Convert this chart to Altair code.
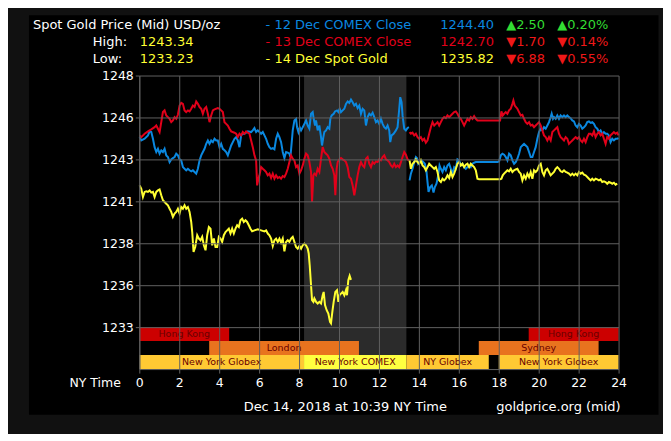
import altair as alt
import pandas as pd

# ---------------- data (minutes since midnight NY, price) ----------------
blue_a = [(1,1244.33),(6,1244.13),(16,1244.23),(26,1244.43),(31,1244.67),(36,1244.63),(41,1244.23),(46,1243.73),(51,1243.44),(56,1243.63),(61,1243.34),(66,1243.54),(71,1243.44),(76,1243.63),(81,1243.24),(86,1243.14),(91,1242.84),(96,1243.00),(101,1243.08),(106,1243.14),(111,1243.34),(116,1243.24),(121,1243.00),(126,1242.94),(131,1242.54),(136,1242.44),(141,1242.35),(146,1242.44),(151,1242.35),(156,1242.29),(161,1242.35),(166,1242.25),(171,1242.15),(176,1242.44),(181,1242.94),(186,1243.24),(191,1243.44),(196,1243.63),(201,1243.93),(206,1244.13),(211,1243.93),(216,1244.13),(221,1244.03),(226,1244.23),(231,1244.13),(236,1244.13),(241,1243.73),(246,1243.93),(251,1243.63),(256,1243.54),(261,1243.44),(266,1243.24),(271,1243.54),(276,1243.83),(281,1244.03),(286,1244.23),(291,1244.33),(296,1244.13),(301,1243.73),(306,1244.43),(311,1244.53),(316,1244.53),(326,1244.67),(336,1244.63),(341,1244.73),(346,1244.87),(351,1244.63),(356,1244.73),
          (361,1244.63),(366,1244.53),(371,1244.63),(376,1244.43),(381,1244.23),(386,1243.93),(391,1243.73),(396,1243.63),(401,1243.67),(406,1243.60),(411,1244.23),(416,1244.53),(421,1244.33),(426,1244.03),(431,1243.44),(436,1243.08),(441,1243.44),(446,1243.40),(451,1243.34),(454,1243.14),(458,1244.03),(461,1244.73),(466,1245.32),(471,1245.42),(474,1244.92),(478,1244.63),(482,1244.92),(486,1244.73),(491,1244.92),(496,1245.12),(501,1245.32),(506,1245.02),(511,1244.83),(516,1245.72),(521,1245.82),(524,1245.42),(528,1245.02),(531,1245.32),(536,1244.73),(541,1245.02),(546,1244.33),(549,1243.83),(553,1244.33),(556,1244.63),(561,1244.73),(566,1244.92),(571,1244.83),(574,1245.42),(578,1245.62),(584,1245.72),(588,1245.86),(594,1245.92),(598,1245.82),(602,1246.02),(606,1245.82),(611,1245.92),(616,1246.02),(621,1246.31),(626,1246.45),(631,1246.37),(636,1246.57),(641,1246.41),(646,1246.21),(651,1246.31),(656,1246.06),(661,1246.21),(666,1245.72),(671,1246.02),(676,1245.92),(681,1245.02),(686,1245.52),(691,1245.72),(696,1245.62),(701,1245.78),(706,1245.52),(711,1245.22),(716,1245.32),(721,1245.12),(726,1245.42),(731,1245.12),(736,1244.92),(741,1244.83),(746,1245.02),(751,1244.73),(754,1244.03),(758,1244.43),(764,1244.53),(771,1244.73),(776,1244.92),(781,1246.02),(784,1246.71),(788,1246.41),(791,1245.62),(796,1244.83),(801,1244.73),(806,1244.87),(810,1244.92)]
blue_b = [(812,1241.75),(816,1242.15),(821,1242.44),(826,1242.84),(831,1243.14),(834,1243.08),(838,1242.74),(844,1242.88),(848,1242.94),(853,1242.84),(858,1242.74),(863,1242.25),(866,1241.65),(869,1241.06),(874,1241.35),(879,1241.45),(884,1241.02),(888,1241.35),(893,1241.55),(898,1242.05),(902,1242.64),(906,1242.44),(911,1242.25),(916,1242.54),(921,1242.35),(926,1242.64),(931,1242.74),(936,1242.44),(941,1242.15),(946,1242.54),(951,1242.44),(956,1243.00),(961,1242.94),(966,1242.64),(971,1242.74),(976,1242.54),(981,1242.44),(986,1242.54),(991,1242.64),(996,1242.54),(1001,1242.74),(1006,1242.80),(1011,1242.84),(1016,1242.84),(1076,1242.84),(1081,1242.88),(1086,1243.24),(1091,1243.34),(1096,1243.28),(1101,1243.14),(1106,1242.94),(1111,1243.34),(1116,1243.24),(1121,1242.94),(1126,1242.74),(1131,1242.84),(1136,1243.04),(1141,1243.34),(1146,1243.73),(1151,1243.83),(1156,1243.93),(1161,1243.83),(1166,1243.73),(1171,1243.44),(1176,1243.14),(1181,1243.14),(1186,1243.44),(1191,1243.73),(1196,1244.23),(1201,1244.63),(1206,1244.83),(1211,1244.73),(1216,1244.92),(1221,1244.83),(1226,1245.02),(1231,1245.22),(1236,1245.52),(1239,1245.72),(1243,1245.42),(1246,1245.52),(1251,1245.42),(1256,1245.62),(1261,1245.42),(1266,1245.62),(1271,1245.52),(1276,1245.62),(1281,1245.52),(1286,1245.62),(1291,1245.52),(1296,1245.46),(1301,1245.32),(1306,1245.26),(1311,1245.02),(1316,1244.92),(1321,1245.12),(1326,1245.02),(1331,1244.83),(1336,1244.92),(1341,1245.02),(1346,1245.22),(1351,1245.26),(1356,1245.18),(1361,1245.22),(1366,1245.12),(1371,1244.92),(1376,1244.83),(1381,1244.63),(1386,1244.73),(1391,1244.53),(1396,1244.63),(1401,1244.53),(1406,1244.53),(1411,1244.43),(1416,1244.03),(1421,1244.23),(1426,1244.13),(1431,1244.23),(1436,1244.23),(1440,1244.27)]

red_a = [(1,1244.43),(6,1244.33),(16,1244.53),(26,1244.67),(36,1244.79),(46,1244.92),(51,1245.02),(56,1244.83),(61,1244.63),(66,1245.22),(71,1245.82),(76,1245.92),(81,1245.62),(86,1245.52),(91,1245.42),(96,1245.22),(101,1245.32),(106,1245.52),(111,1245.42),(116,1245.66),(121,1246.21),(126,1246.37),(131,1246.31),(136,1245.92),(141,1245.82),(146,1245.92),(151,1245.86),(156,1246.02),(161,1246.21),(166,1246.12),(171,1246.45),(176,1246.31),(181,1246.12),(186,1246.02),(191,1245.72),(196,1246.02),(201,1246.12),(206,1245.72),(211,1245.22),(216,1245.62),(221,1245.92),(226,1245.98),(236,1246.06),(241,1246.02),(246,1245.92),(251,1245.82),(256,1245.22),(261,1245.12),(266,1245.02),(271,1244.83),(276,1244.67),(286,1244.59),(291,1244.53),(296,1244.33),(301,1244.53),(306,1244.43),(311,1244.63),(316,1244.53),(321,1244.67),(326,1244.59),(331,1244.53),(336,1244.13),(341,1243.73),(346,1243.24),(351,1242.94),(354,1241.45),(358,1241.85),(361,1242.05),(366,1242.54),(371,1242.44),(376,1242.35),(381,1242.25),(386,1242.05),(391,1242.15),(396,1241.89),(401,1242.15),(406,1241.85),(411,1242.05),(416,1241.89),(421,1241.95),(426,1241.85),(431,1242.01),(436,1241.95),(441,1242.15),(446,1242.44),(451,1242.84),(456,1243.24),(461,1243.04),(466,1242.94),(471,1242.54),(476,1242.64),(481,1242.15),(486,1242.35),(491,1242.64),(496,1243.04),(501,1243.34),(506,1243.24),(511,1242.84),(516,1242.25),(519,1240.46),(523,1242.05),(526,1242.15),(531,1242.05),(536,1242.44),(541,1242.25),(546,1243.04),(551,1243.73),(556,1243.44),(561,1243.34),(566,1243.24),(571,1243.04),(576,1242.64),(581,1242.44),(586,1242.05),(589,1240.86),(593,1242.44),(596,1242.84),(601,1243.00),(606,1243.08),(611,1243.00),(616,1242.94),(621,1242.84),(626,1242.54),(631,1241.95),(636,1241.85),(641,1241.45),(646,1240.86),(651,1241.45),(656,1242.05),(661,1242.54),(666,1242.84),(671,1242.64),(676,1242.54),(681,1243.04),(686,1243.14),(691,1242.74),(696,1242.54),(701,1242.84),(706,1242.74),(711,1242.88),(716,1242.84),(721,1243.00),(726,1242.94),(731,1243.14),(736,1243.24),(741,1243.00),(746,1242.94),(751,1242.84),(756,1242.64),(761,1242.54),(766,1242.74),(771,1242.54),(776,1242.64),(781,1242.54),(786,1242.84),(791,1243.14),(796,1243.44),(801,1243.28),(806,1243.00),(810,1242.94)]
red_b = [(812,1244.63),(816,1244.53),(821,1244.59),(826,1244.43),(831,1244.53),(836,1244.33),(841,1244.23),(846,1244.33),(851,1244.13),(856,1244.23),(861,1243.99),(866,1244.13),(871,1244.53),(876,1244.92),(881,1245.22),(886,1245.02),(891,1245.12),(896,1245.22),(901,1245.02),(906,1245.22),(911,1245.42),(916,1245.52),(921,1245.46),(926,1245.62),(931,1245.52),(936,1245.62),(941,1245.72),(946,1245.82),(951,1245.86),(956,1245.72),(961,1245.52),(966,1245.42),(971,1245.22),(976,1245.02),(981,1245.22),(986,1245.42),(991,1245.32),(996,1245.52),(1001,1245.42),(1006,1245.58),(1011,1245.42),(1016,1245.32),(1076,1245.32),(1084,1245.32),(1088,1245.86),(1092,1245.62),(1096,1245.72),(1101,1245.82),(1106,1245.72),(1111,1245.92),(1116,1246.02),(1121,1246.31),(1124,1246.51),(1128,1246.21),(1132,1246.12),(1136,1246.02),(1141,1245.82),(1146,1245.62),(1151,1245.66),(1156,1245.42),(1161,1245.22),(1166,1245.12),(1171,1245.22),(1176,1245.02),(1181,1245.06),(1186,1244.92),(1191,1245.02),(1196,1245.12),(1201,1245.22),(1206,1245.02),(1211,1244.73),(1216,1244.43),(1221,1244.33),(1226,1244.13),(1231,1244.33),(1236,1244.13),(1241,1244.63),(1246,1244.73),(1251,1244.83),(1256,1244.92),(1261,1244.53),(1266,1244.33),(1271,1244.23),(1276,1244.13),(1281,1244.33),(1286,1244.23),(1291,1243.93),(1296,1244.03),(1301,1244.13),(1306,1244.23),(1311,1244.33),(1316,1244.23),(1321,1244.33),(1326,1244.13),(1331,1244.03),(1336,1244.23),(1341,1244.03),(1346,1244.33),(1351,1244.53),(1356,1244.53),(1361,1244.43),(1366,1244.67),(1371,1244.33),(1376,1244.53),(1381,1244.63),(1386,1244.43),(1391,1244.53),(1396,1244.23),(1401,1243.93),(1406,1244.33),(1411,1244.23),(1416,1244.43),(1421,1244.53),(1426,1244.63),(1431,1244.53),(1436,1244.59),(1440,1244.43)]

yellow_a = [(1,1241.45),(6,1241.25),(11,1240.76),(16,1241.06),(21,1241.10),(26,1241.06),(31,1241.15),(36,1241.02),(41,1241.06),(46,1240.76),(51,1241.06),(56,1241.15),(61,1241.21),(66,1240.86),(71,1240.56),(76,1240.46),(81,1240.36),(86,1240.26),(91,1240.06),(96,1239.87),(101,1239.57),(106,1239.77),(111,1239.87),(116,1240.06),(121,1239.77),(126,1240.16),(131,1240.06),(136,1240.26),(141,1240.06),(146,1240.16),(151,1239.87),(156,1239.27),(159,1238.67),(163,1237.48),(168,1237.78),(174,1238.48),(179,1238.28),(184,1238.18),(189,1238.38),(194,1237.88),(199,1237.58),(204,1238.48),(209,1238.97),(214,1238.87),(219,1237.88),(224,1238.28),(229,1237.78),(234,1237.78),(239,1238.38),(244,1238.28),(249,1238.08),(254,1238.48),(259,1238.67),(264,1238.77),(269,1238.87),(274,1238.58),(279,1238.87),(284,1238.58),(289,1238.87),(294,1239.07),(299,1238.97),(304,1239.37),(309,1239.47),(314,1239.27),(319,1239.37),(324,1239.27),(329,1239.07),(334,1238.87),(339,1238.71),(346,1238.77),(356,1238.83),(366,1238.77),(376,1238.71),(381,1238.77),(386,1238.58),(391,1238.48),(396,1238.28),(401,1237.84),(406,1238.18),(411,1238.28),(416,1238.08),(421,1238.28),(426,1238.04),(431,1238.28),(436,1237.52),(441,1238.08),(446,1238.18),(451,1238.08),(456,1238.28),(461,1238.38),(466,1238.08),(471,1237.78),(476,1237.68),(481,1237.84),(486,1237.68),(491,1237.88),(496,1237.98),(501,1237.88),(506,1237.68),(509,1237.39),(512,1236.69),(516,1235.50),(519,1234.61),(523,1234.51),(526,1234.71),(531,1234.51),(536,1234.41),(541,1234.51),(546,1234.41),(551,1234.90),(554,1235.10),(558,1234.31),(563,1234.01),(568,1233.81),(573,1233.32),(576,1233.23),(580,1233.91),(584,1234.51),(589,1235.10),(594,1235.20),(598,1234.51),(601,1234.90),(606,1235.00),(611,1235.10),(616,1234.90),(621,1235.20),(624,1234.90),(628,1235.80),(632,1236.06),(636,1235.82)]
yellow_b = [(812,1242.94),(816,1242.44),(821,1242.74),(826,1242.84),(831,1243.00),(836,1242.84),(841,1242.74),(846,1242.94),(851,1242.64),(856,1242.54),(861,1242.35),(866,1242.54),(871,1242.74),(876,1242.64),(881,1242.54),(886,1242.44),(891,1242.54),(896,1242.25),(901,1241.75),(906,1241.65),(911,1241.85),(916,1241.75),(921,1241.85),(926,1242.05),(931,1241.89),(936,1242.25),(941,1241.95),(946,1242.15),(951,1242.44),(956,1242.74),(961,1242.84),(966,1242.64),(971,1242.74),(976,1242.54),(981,1242.68),(986,1242.74),(991,1242.54),(996,1242.74),(1001,1242.64),(1006,1242.54),(1011,1242.35),(1016,1241.85),(1021,1241.81),(1076,1241.81),(1084,1241.81),(1088,1241.85),(1092,1242.05),(1096,1242.15),(1101,1242.25),(1106,1242.35),(1111,1242.29),(1116,1242.44),(1121,1242.25),(1126,1242.35),(1131,1242.40),(1136,1242.44),(1141,1242.25),(1146,1242.15),(1151,1241.75),(1156,1242.05),(1161,1241.85),(1166,1242.15),(1171,1241.95),(1176,1242.25),(1181,1241.85),(1186,1242.35),(1191,1242.25),(1196,1242.35),(1201,1242.64),(1206,1242.74),(1211,1242.25),(1216,1242.05),(1221,1242.35),(1226,1242.44),(1231,1242.25),(1236,1242.05),(1241,1242.15),(1246,1242.25),(1251,1242.44),(1256,1242.54),(1261,1242.44),(1266,1242.29),(1271,1242.25),(1276,1242.35),(1281,1242.25),(1286,1242.21),(1291,1242.15),(1296,1242.05),(1301,1242.15),(1306,1242.05),(1311,1242.15),(1316,1242.05),(1321,1242.25),(1326,1242.15),(1331,1242.21),(1336,1242.09),(1341,1242.05),(1346,1241.95),(1351,1241.85),(1356,1241.75),(1361,1241.85),(1366,1241.75),(1371,1241.85),(1376,1241.81),(1381,1241.75),(1386,1241.81),(1391,1241.65),(1396,1241.69),(1401,1241.65),(1406,1241.55),(1411,1241.65),(1416,1241.61),(1421,1241.55),(1426,1241.61),(1431,1241.49),(1436,1241.55)]

series_names = ["12 Dec COMEX Close", "13 Dec COMEX Close", "14 Dec Spot Gold"]
series_close = [1244.40, 1242.70, 1235.82]
series_chg = [2.50, -1.70, -6.88]
series_pct = [0.20, -0.14, -0.55]
day_high = 1243.34
day_low = 1233.23

session_names = ["Hong Kong", "Hong Kong", "London", "Sydney", "New York Globex", "New York COMEX", "NY Globex", "New York Globex"]
session_start = [0, 19.5, 3.5, 17, 0, 8.25, 13.375, 18]
session_end = [4.5, 24, 11, 23, 8.25, 13.375, 17.5, 24]
session_row = [0, 0, 1, 1, 2, 2, 2, 2]
comex_open, comex_close = 8.25, 13.375

x_ticks = list(range(0, 25, 2))
y_ticks = [1233, 1235.5, 1238, 1240.5, 1243, 1245.5, 1248]

# ---------------- styling ----------------
BLUE, RED, YEL = "#0a88e0", "#e2001a", "#ffff33"
GREEN, TRED = "#33dd33", "#f01818"
FONT = "DejaVu Sans"
GRID = "#606060"
session_colors = ["#cc0000", "#cc0000", "#e8731e", "#e8731e", "#ffc933", "#ffff40", "#ffc933", "#ffc933"]
OX, OY = 139.5, 75.3          # page position of plot origin
W, H = 480, 294
ROW = 2.5 / 3                 # height of a session row (price units)

xs = alt.Scale(domain=[0, 24], nice=False, zero=False)
ys = alt.Scale(domain=[1230.5, 1248], nice=False, zero=False)
xaxis = alt.Axis(values=x_ticks, title=None, grid=True, gridColor=GRID, domainColor=GRID,
                 tickColor=GRID, tickSize=4, labelColor="white", labelFont=FONT,
                 labelFontSize=12.5, labelPadding=3, zindex=1, labelFlush=False)
yaxis = alt.Axis(values=y_ticks, format=".0f", title=None, grid=True, gridColor=GRID,
                 domainColor=GRID, tickColor=GRID, tickSize=4, labelColor="white",
                 labelFont=FONT, labelFontSize=12.5, labelPadding=2, zindex=1)

one = pd.DataFrame({"a": [0]})


def txt(s, x, y, color="white", align="left", size=13):
    return alt.Chart(one).mark_text(text=s, align=align, baseline="middle", font=FONT,
                                    fontSize=size, color=color).encode(
        x=alt.value(x - OX), y=alt.value(y - OY))


# panel background
panel = alt.Chart(one).mark_rect(color="black").encode(
    x=alt.value(29 - OX), x2=alt.value(659.5 - OX), y=alt.value(15 - OY), y2=alt.value(415 - OY))

# COMEX shading
shade_df = pd.DataFrame({"start": [comex_open], "end": [comex_close], "top": [1248], "bottom": [1230.5]})
shade = alt.Chart(shade_df).mark_rect(color="#2b2b2b").encode(
    x=alt.X("start:Q", scale=xs, axis=xaxis), x2="end:Q",
    y=alt.Y("top:Q", scale=ys, axis=yaxis), y2="bottom:Q")

# sessions
sess = pd.DataFrame({"name": session_names, "start": session_start, "end": session_end,
                     "row": session_row, "color": session_colors})
sess["top"] = 1233 - sess["row"] * ROW
sess["bottom"] = sess["top"] - ROW
sess["mid"] = (sess["start"] + sess["end"]) / 2
sess["ymid"] = sess["top"] - ROW / 2
sess_rect = alt.Chart(sess).mark_rect().encode(
    x=alt.X("start:Q", scale=xs, axis=xaxis), x2="end:Q",
    y=alt.Y("top:Q", scale=ys, axis=yaxis), y2="bottom:Q",
    color=alt.Color("color:N", scale=None))
sess_text = alt.Chart(sess).mark_text(font=FONT, fontSize=9.5, color="#6a0000", baseline="middle").encode(
    x=alt.X("mid:Q", scale=xs, axis=xaxis), y=alt.Y("ymid:Q", scale=ys, axis=yaxis), text="name:N")


def frame(pairs, seg):
    return pd.DataFrame({"hour": [m / 60 for m, _ in pairs], "price": [p for _, p in pairs], "seg": seg})


def line(df, color):
    return alt.Chart(df).mark_line(color=color, strokeWidth=2, strokeJoin="miter").encode(
        x=alt.X("hour:Q", scale=xs, axis=xaxis), y=alt.Y("price:Q", scale=ys, axis=yaxis),
        detail="seg:N")


blue = line(pd.concat([frame(blue_a, "a"), frame(blue_b, "b")]), BLUE)
red = line(pd.concat([frame(red_a, "a"), frame(red_b, "b")]), RED)
yellow = line(pd.concat([frame(yellow_a, "a"), frame(yellow_b, "b")]), YEL)

# header
texts = [
    txt("Spot Gold Price (Mid) USD/oz", 33, 25),
    txt("High:", 93, 42), txt(f"{day_high:.2f}", 140, 42, YEL),
    txt("Low:", 93, 59), txt(f"{day_low:.2f}", 140, 59, YEL),
]
cols = [BLUE, RED, YEL]
for i, (nm, cl, ch, pc) in enumerate(zip(series_names, series_close, series_chg, series_pct)):
    yy = 25 + 17 * i
    texts.append(txt("- " + nm, 266, yy, cols[i]))
    texts.append(txt(f"{cl:.2f}", 441, yy, cols[i]))
    up = ch >= 0
    c = GREEN if up else TRED
    tri = "\u25B2" if up else "\u25BC"
    texts.append(txt(f"{tri}{abs(ch):.2f}", 507, yy, c))
    texts.append(txt(f"{tri}{abs(pc):.2f}%", 558, yy, c))
texts.append(txt("NY Time", 121, 383, align="right", size=12.5))
texts.append(txt("Dec 14, 2018 at 10:39 NY Time", 244, 407))
texts.append(txt("goldprice.org (mid)", 497, 407))

chart = alt.layer(panel, shade, sess_rect, sess_text, blue, red, yellow, *texts).properties(
    width=W, height=H,
    autosize=alt.AutoSizeParams(type="none"),
    padding={"left": OX - 8, "top": OY - 8, "right": 656 - (OX - 8) - W, "bottom": 426 - (OY - 8) - H},
    background="#111111",
).configure_view(stroke=None)

chart.save("out.html", embed_options={"renderer": "svg", "actions": False})
